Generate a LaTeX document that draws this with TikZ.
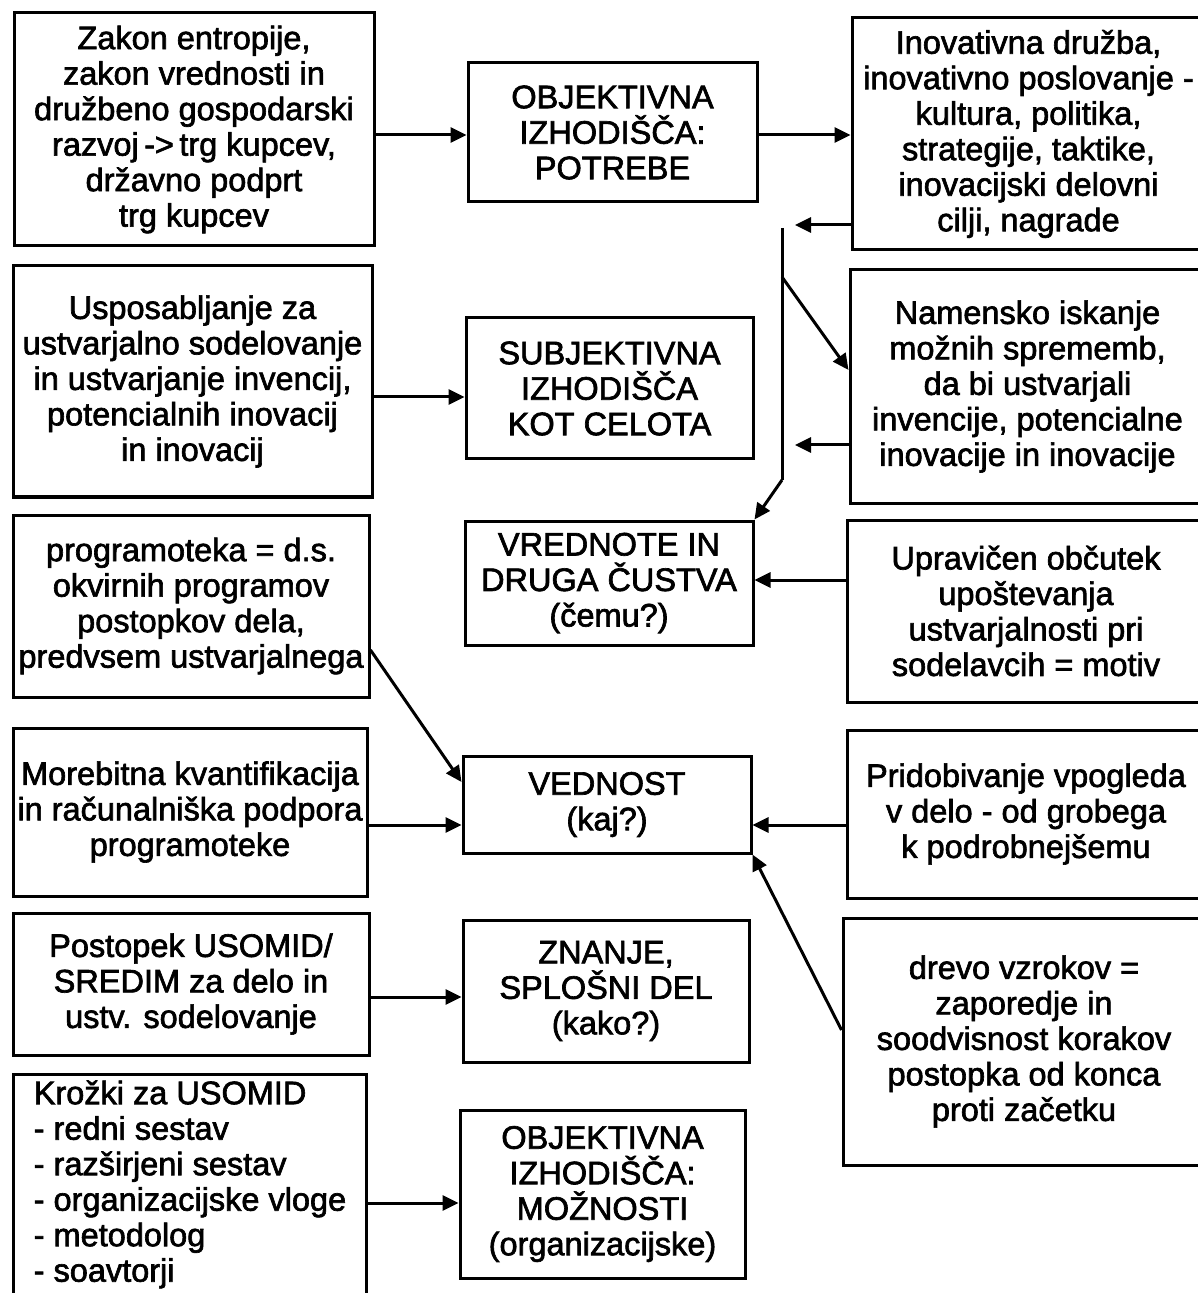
\documentclass[tikz,border=0pt]{standalone}
\usepackage{fontspec}
\usetikzlibrary{arrows.meta}
\newfontfamily\scanfont[UprightFeatures={FakeBold=2}]{Liberation Sans}
\tikzset{
  plainbox/.style={draw,line width=1.5pt,align=center,inner sep=2pt,
    font=\scanfont\fontsize{16.25}{17.75}\selectfont},
  listbox/.style={plainbox,align=left,anchor=north west,inner ysep=3pt,text depth=20pt}
}

\begin{document}
\begin{tikzpicture}[x=0.5pt,y=-0.5pt,line width=1.5pt,>={Triangle[length=8pt,width=7.5pt]}]
  \useasboundingbox (0,0) rectangle (1197,1293);
  % left column
  \node[plainbox,minimum width=180pt,minimum height=116.5pt] (law) at (194,129.5)
    {Zakon entropije,\\ zakon vrednosti in\\ družbeno gospodarski\\ razvoj\,->\,trg kupcev,\\ državno podprt\\ trg kupcev};
  \node[plainbox,minimum width=179.5pt,minimum height=115.5pt] (training) at (192.5,381.5)
    {Usposabljanje za\\ ustvarjalno sodelovanje\\ in ustvarjanje invencij,\\ potencialnih inovacij\\ in inovacij};
  \node[plainbox,minimum width=178pt,minimum height=91pt] (program) at (191,606)
    {programoteka = d.s.\\ okvirnih programov\\ postopkov dela,\\ predvsem ustvarjalnega};
  \node[plainbox,minimum width=177pt,minimum height=84pt] (quantify) at (190,812)
    {Morebitna kvantifikacija\\ in računalniška podpora\\ programoteke};
  \node[plainbox,minimum width=178pt,minimum height=71pt] (procedure) at (191,984)
    {Postopek USOMID/\\ SREDIM za delo in\\ ustv. sodelovanje};
  \node[listbox,minimum width=176.5pt] (circles) at (12,1073)
    {Krožki za USOMID\\ - redni sestav\\ - razširjeni sestav\\ - organizacijske vloge\\ - metodolog\\ - soavtorji};
  % middle column
  \node[plainbox,minimum width=144.5pt,minimum height=69.5pt] (needs) at (612.5,132.5)
    {OBJEKTIVNA\\ IZHODIŠČA:\\ POTREBE};
  \node[plainbox,minimum width=143.5pt,minimum height=70.5pt] (subjective) at (609.5,388.5)
    {SUBJEKTIVNA\\ IZHODIŠČA\\ KOT CELOTA};
  \node[plainbox,minimum width=144pt,minimum height=62pt] (values) at (609,583)
    {VREDNOTE IN\\ DRUGA ČUSTVA\\ (čemu?)};
  \node[plainbox,minimum width=144pt,minimum height=48.5pt] (knowhow) at (607,804.5)
    {VEDNOST\\ (kaj?)};
  \node[plainbox,minimum width=143pt,minimum height=71pt] (knowledge) at (606,991)
    {ZNANJE,\\ SPLOŠNI DEL\\ (kako?)};
  \node[plainbox,minimum width=142.5pt,minimum height=84pt] (possibilities) at (602.5,1194)
    {OBJEKTIVNA\\ IZHODIŠČA:\\ MOŽNOSTI\\ (organizacijske)};
  % right column
  \node[plainbox,minimum width=176.5pt,minimum height=116pt] (society) at (1028.5,134)
    {Inovativna družba,\\ inovativno poslovanje -\\ kultura, politika,\\ strategije, taktike,\\ inovacijski delovni\\ cilji, nagrade};
  \node[plainbox,minimum width=177.5pt,minimum height=116.5pt] (search) at (1027.5,386.5)
    {Namensko iskanje\\ možnih sprememb,\\ da bi ustvarjali\\ invencije, potencialne\\ inovacije in inovacije};
  \node[plainbox,minimum width=179pt,minimum height=91pt] (motive) at (1026,611)
    {Upravičen občutek\\ upoštevanja\\ ustvarjalnosti pri\\ sodelavcih = motiv};
  \node[plainbox,minimum width=179pt,minimum height=84pt] (insight) at (1026,814)
    {Pridobivanje vpogleda\\ v delo - od grobega\\ k podrobnejšemu};
  \node[plainbox,minimum width=181pt,minimum height=123.5pt] (tree) at (1024,1041.5)
    {drevo vzrokov =\\ zaporedje in\\ soodvisnost korakov\\ postopka od konca\\ proti začetku};
  % spine between middle and right column
  \coordinate (spinetop) at (782,228);
  \coordinate (fork) at (782,277);
  \coordinate (spinebend) at (782,480);
  \coordinate (societyout) at (795,225);
  \coordinate (searchout) at (795,445);
  \draw (spinetop) -- (spinebend);
  \path[->]
    (law.east |- 0,135) edge (needs.west |- 0,135)
    (needs.east |- 0,135) edge (society.west |- 0,135)
    (society.west |- societyout) edge (societyout)
    (fork) edge (search.west |- 0,370)
    (search.west |- searchout) edge (searchout)
    (spinebend) edge (values.north east)
    (training.east |- 0,397) edge (subjective.west |- 0,397)
    (motive.west |- 0,580) edge (values.east |- 0,580)
    (program.east |- 0,650) edge (knowhow.west |- 0,782)
    (quantify.east |- 0,825) edge (knowhow.west |- 0,825)
    (insight.west |- 0,825) edge (knowhow.east |- 0,825)
    (tree.west |- 0,1030) edge (knowhow.south east)
    (procedure.east |- 0,997) edge (knowledge.west |- 0,997)
    (circles.east |- 0,1203) edge (possibilities.west |- 0,1203);
\end{tikzpicture}
\end{document}
